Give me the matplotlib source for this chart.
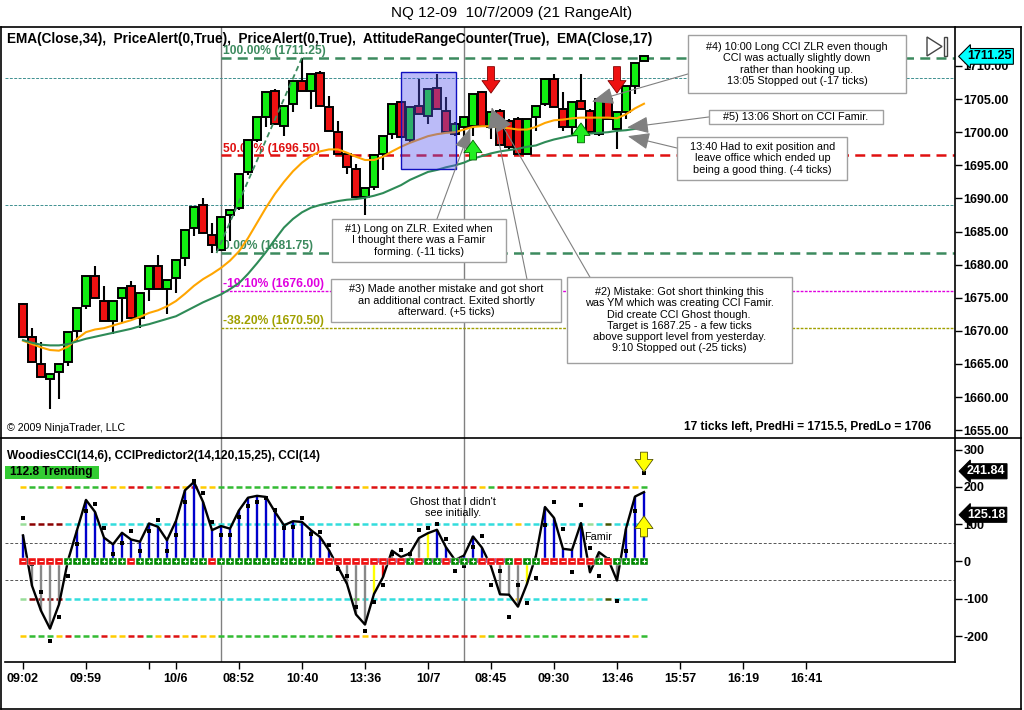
import matplotlib.pyplot as plt
import matplotlib.transforms as mtransforms
from matplotlib.patches import Rectangle, Polygon
from matplotlib.lines import Line2D

plt.rcParams['font.family'] = ['Liberation Sans', 'DejaVu Sans']

# ---- NQ 12-09, 21 tick range bars ----
opens = [1674.0, 1669.0, 1665.0, 1662.75, 1663.75, 1665.25, 1670.0, 1673.75, 1678.25, 1674.5,
         1671.5, 1675.0, 1676.75, 1672.0, 1676.25, 1679.75, 1676.25, 1678.0, 1681.0, 1685.5,
         1689.0, 1684.5, 1682.25, 1687.5, 1688.5, 1694.0, 1698.75, 1702.25, 1706.25, 1701.0,
         1704.25, 1707.75, 1706.25, 1709.0, 1703.75, 1700.0, 1696.75, 1694.5, 1690.25, 1691.75,
         1696.75, 1699.75, 1704.5, 1698.75, 1704.0, 1702.5, 1706.75, 1703.25, 1699.75, 1700.75,
         1701.0, 1706.0, 1700.75, 1703.25, 1701.75, 1702.0, 1696.75, 1702.25, 1704.25, 1708.0,
         1703.5, 1700.75, 1704.75, 1703.25, 1699.75, 1705.0, 1700.5, 1703.0, 1707.0, 1710.75]
highs = [1674.25, 1670.5, 1668.25, 1663.5, 1665.0, 1669.75, 1673.5, 1678.25, 1679.75, 1676.75,
         1674.5, 1676.5, 1677.5, 1675.75, 1679.75, 1681.5, 1677.75, 1680.75, 1685.25, 1688.75,
         1690.0, 1686.25, 1687.25, 1688.25, 1693.75, 1698.75, 1702.25, 1706.0, 1706.5, 1704.0,
         1707.75, 1711.25, 1708.75, 1709.25, 1705.5, 1701.75, 1697.0, 1695.25, 1691.5, 1696.5,
         1699.5, 1704.25, 1704.75, 1703.75, 1708.0, 1706.5, 1708.75, 1705.25, 1701.5, 1702.25,
         1705.75, 1706.25, 1703.0, 1703.5, 1702.0, 1702.25, 1702.0, 1704.0, 1708.0, 1708.75,
         1706.0, 1704.5, 1708.75, 1703.5, 1705.0, 1705.25, 1703.0, 1707.0, 1710.5, 1711.5]
lows = [1669.0, 1665.25, 1663.0, 1658.25, 1659.75, 1664.75, 1668.25, 1673.25, 1675.0, 1671.5,
        1669.5, 1671.25, 1672.0, 1670.5, 1674.5, 1676.25, 1672.5, 1675.75, 1679.75, 1684.25,
        1684.75, 1681.75, 1682.0, 1683.5, 1688.25, 1693.5, 1698.5, 1700.75, 1701.25, 1699.5,
        1703.0, 1706.25, 1703.5, 1704.0, 1700.25, 1696.75, 1693.75, 1690.25, 1687.5, 1691.25,
        1694.25, 1699.0, 1699.25, 1698.5, 1702.75, 1701.25, 1703.5, 1700.0, 1699.5, 1698.75,
        1699.5, 1701.0, 1699.0, 1698.0, 1697.25, 1696.75, 1696.75, 1700.25, 1704.0, 1703.75,
        1700.25, 1699.5, 1703.5, 1699.75, 1699.5, 1702.0, 1697.5, 1702.0, 1705.75, 1710.75]
closes = [1669.0, 1665.25, 1663.0, 1663.5, 1665.0, 1669.75, 1673.5, 1678.25, 1675.0, 1671.5,
          1674.5, 1676.5, 1672.0, 1675.75, 1679.75, 1676.25, 1677.75, 1680.75, 1685.25, 1688.75,
          1684.75, 1683.0, 1687.25, 1688.25, 1693.75, 1698.75, 1702.25, 1706.0, 1701.25, 1704.0,
          1707.75, 1706.25, 1708.75, 1704.0, 1700.25, 1696.75, 1694.75, 1690.25, 1691.5, 1696.5,
          1699.5, 1704.25, 1699.25, 1703.75, 1702.75, 1706.5, 1703.5, 1700.0, 1701.25, 1702.25,
          1705.75, 1701.0, 1703.0, 1698.0, 1697.75, 1696.75, 1702.0, 1704.0, 1708.0, 1703.75,
          1700.75, 1704.5, 1703.5, 1700.0, 1705.0, 1702.0, 1703.0, 1707.0, 1710.5, 1711.5]

ema17 = [1668.5, 1668.0, 1667.5, 1667.1, 1667.0, 1667.6, 1668.8, 1669.8, 1670.2, 1670.4,
         1670.8, 1671.2, 1671.6, 1672.1, 1672.7, 1673.1, 1673.7, 1674.5, 1675.6, 1676.8,
         1677.8, 1678.6, 1679.5, 1680.6, 1682.0, 1684.0, 1686.3, 1688.6, 1690.7, 1692.5,
         1694.1, 1695.4, 1696.4, 1697.1, 1697.4, 1697.4, 1696.9, 1696.3, 1695.8, 1695.8,
         1696.3, 1697.1, 1697.8, 1698.4, 1698.9, 1699.4, 1699.7, 1699.9, 1700.0, 1700.4,
         1700.8, 1700.9, 1700.9, 1700.7, 1700.6, 1700.4, 1700.4, 1700.8, 1701.4, 1701.8,
         1701.9, 1702.1, 1702.2, 1702.2, 1702.2, 1702.2, 1702.1, 1702.7, 1703.6, 1704.3]
ema34 = [1668.6, 1668.2, 1667.9, 1667.8, 1667.8, 1668.0, 1668.4, 1668.8, 1669.1, 1669.4,
         1669.7, 1670.0, 1670.3, 1670.7, 1671.0, 1671.4, 1671.8, 1672.2, 1672.9, 1673.6,
         1674.3, 1674.9, 1675.5, 1676.3, 1677.2, 1678.6, 1680.2, 1681.9, 1683.8, 1685.6,
         1686.9, 1687.9, 1688.6, 1689.0, 1689.3, 1689.6, 1689.8, 1689.9, 1690.1, 1690.4,
         1690.8, 1691.4, 1692.0, 1692.8, 1693.4, 1694.0, 1694.3, 1694.7, 1695.0, 1695.4,
         1696.0, 1696.4, 1696.8, 1697.1, 1697.3, 1697.5, 1697.8, 1698.0, 1698.5, 1698.9,
         1699.2, 1699.5, 1699.6, 1699.8, 1699.9, 1700.0, 1700.2, 1700.3, 1700.5, 1700.8]

fib_pct = ['100.00%', '50.00%', '0.00%', '-19.10%', '-38.20%']
fib_price = [1711.25, 1696.50, 1681.75, 1676.00, 1670.50]
fib_anchor_bars = [21.5, 31]          # swing low -> swing high
prior_levels = [1708.25, 1689.0]      # thin reference lines
session_breaks = [22, 49]

sell_bars, sell_tip = [52, 66], [1705.9, 1705.9]
buy_bars, buy_tip = [50, 62], [1698.8, 1701.4]

# ---- Woodies CCI panel ----
cci14 = [70, -65, -132, -180, -115, 3, 84, 165, 133, 64,
         46, 77, 59, 53, 102, 93, 57, 109, 191, 213,
         160, 84, 95, 88, 137, 171, 176, 173, 133, 97,
         108, 106, 84, 66, 30, -15, -60, -142, -169, -87,
         -42, 29, 12, 22, 63, 76, 85, 38, 4, 16,
         67, 37, -13, -88, -89, -121, -60, 16, 146, 117,
         34, 31, 103, -29, 25, 7, -51, 88, 174, 186]
turbo = [116, -8, -82, -213, -149, -40, 47, 135, 154, 89,
         19, 49, 81, 28, 81, 112, 28, 72, 159, 217,
         183, 105, 72, 70, 119, 150, 159, 171, 137, 90,
         92, 116, 74, 79, 43, -20, -40, -122, -187, -109,
         -62, 20, 31, 20, 85, 90, 100, 61, -26, -13,
         40, 67, -62, -26, -149, -62, -112, -44, 98, 159,
         86, -29, 152, 37, -38, 7, -106, 29, 134, 237]
# trend state of histogram bars: u = trending, n = neutral, w = warning bar, d = down
hist_state = list('unnnnu' + 'u' * 29 + 'nnnnwd' + 'nnnnw' + 'uuuuuu' + 'nnnnwn' + 'uuuuu' + 'nnnn' + 'uuu')
# zero line (LSMA) sign
zero_sign = list('-----' + '+++++++' + '-' + '++++++++' + '-' + '+' * 11 + '-' * 10 + '+-++-+++---+-++' + '------+-++++')
band200_top = list('yGGGyrGGGryyrrGyrryryy' + 'G' * 13 + 'rrry' + 'r' * 12 + 'yG' + 'r' * 15 + 'yG')
band200_bot = band200_top[:56] + list('GGGG') + band200_top[60:]
band100 = list('lkkkk' + 'c' * 32 + 'g' + 'c' * 17 + 'y' + 'c' * 7 + 'l' + 'c' + 'o' + 'cccc')
ghost_span = [39.1, 54.1]
alert_bar = 69
alert_down, alert_up = [293, 240], [66, 122]
cci_tags = [241.84, 125.18]

tick_pos = [0, 7, 14, 17, 24, 31, 38, 45, 52, 59, 66, 73, 80, 87]
tick_lab = ['09:02', '09:59', '', '10/6', '08:52', '10:40', '13:36', '10/7', '08:45',
            '09:30', '13:46', '15:57', '16:19', '16:41']

notes = [
    ("#4) 10:00 Long CCI ZLR even though\nCCI was actually slightly down\nrather than hooking up.\n13:05 Stopped out (-17 ticks)",
     (73.9, 1705.9, 24.2, 8.8), (73.9, 1708.8), (63.2, 1704.6)),
    ("#5) 13:06 Short on CCI Famir.", (76.2, 1701.25, 19.4, 2.1), (76.2, 1702.3), (67.1, 1700.7)),
    ("13:40 Had to exit position and\nleave office which ended up\nbeing a good thing. (-4 ticks)",
     (72.7, 1692.8, 18.9, 6.5), (72.7, 1697.6), (67.2, 1699.4)),
    ("#1) Long on ZLR. Exited when\nI thought there was a Famir\nforming. (-11 ticks)",
     (34.3, 1680.4, 19.4, 6.5), (46.0, 1686.9), (49.7, 1700.6)),
    ("#3) Made another mistake and got short\nan additional contract. Exited shortly\nafterward. (+5 ticks)",
     (34.2, 1671.3, 25.6, 6.5), (56.0, 1677.8), (52.1, 1703.8)),
    ("#2) Mistake: Got short thinking this\nwas YM which was creating CCI Famir.\nDid create CCI Ghost though.\n"
     "Target is 1687.25 - a few ticks\nabove support level from yesterday.\n9:10 Stopped out (-25 ticks)",
     (60.4, 1665.1, 25.0, 13.0), (63.0, 1678.1), (52.3, 1703.3)),
]

W, H = 1024, 710
fig = plt.figure(figsize=(W / 100, H / 100), dpi=100)


def fx(px):
    return px / W


def fy(py):
    return 1 - py / H


ax = fig.add_axes([fx(5), fy(438), fx(950), 411 / H])
ax2 = fig.add_axes([fx(5), fy(662), fx(950), 224 / H])
XMIN, XMAX = -2.0, 103.56
for a in (ax, ax2):
    a.set_xlim(XMIN, XMAX)
    for s in ('left', 'top', 'bottom'):
        a.spines[s].set_visible(False)
    a.spines['right'].set_linewidth(1.2)
    a.yaxis.tick_right()
    a.tick_params(axis='y', length=5, width=1, pad=1)
ax2.spines['bottom'].set_visible(True)
ax2.spines['bottom'].set_linewidth(1.2)

ax.set_ylim(1653.81, 1715.89)
ax.set_yticks(range(1655, 1711, 5))
ax.set_yticklabels([f'{v:.2f}' for v in range(1655, 1711, 5)], fontweight='bold', fontsize=9)
ax.set_xticks([])

# ---- price panel ----
xs = list(range(len(closes)))
for b in session_breaks:
    ax.axvline(b, color='#808080', lw=1, zorder=1)
    ax2.axvline(b, color='#808080', lw=1, zorder=1)
for lv in prior_levels:
    ax.axhline(lv, color='#3F9090', lw=0.7, ls=(0, (3, 1.5)), zorder=1)

fib_col = ['#3C8A5E', '#E01010', '#3C8A5E', '#E000E0', '#A0A000']
fib_ls = [(0, (4, 2.5)), (0, (4, 2.5)), (0, (4, 2.5)), (0, (2, 1)), (0, (2, 1))]
fib_lw = [1.8, 1.8, 1.8, 1.0, 1.0]
for p, v, c, ls, lw in zip(fib_pct, fib_price, fib_col, fib_ls, fib_lw):
    ax.hlines(v, session_breaks[0], XMAX, colors=c, linestyles=ls, lw=lw, zorder=2)
    ax.text(session_breaks[0] + 0.2, v + 0.12, f'{p} ({v:.2f})', color=c, fontsize=8.7,
            fontweight='bold', va='bottom', ha='left', zorder=2)
ax.plot(fib_anchor_bars, [fib_price[2], fib_price[0]], color='#3C8A5E', lw=1.3,
        ls=(0, (3, 2)), zorder=6)

ax.vlines(xs, lows, highs, color='black', lw=1.5, zorder=3)
body_col = ['#11EE11' if c >= o else '#EE1111' for o, c in zip(opens, closes)]
ax.bar(xs, [c - o for o, c in zip(opens, closes)], bottom=opens, width=0.8,
       color=body_col, edgecolor='black', linewidth=1.4, zorder=4)
ax.plot(xs, ema17, color='#FFA500', lw=1.5, zorder=5)
ax.plot(xs, ema34, color='#2E8B57', lw=1.5, zorder=5)

ax.add_patch(Rectangle((42.0, 1694.45), 6.08, 14.6, fc='#5555EE', alpha=0.4, ec='none', zorder=5))
ax.add_patch(Rectangle((42.0, 1694.45), 6.08, 14.6, fc='none', ec='#1010C0', lw=1, zorder=5))

sig_style = 'simple,head_length=0.45,head_width=0.65,tail_width=0.25'
for b, t in zip(sell_bars, sell_tip):
    ax.annotate('', xy=(b, t), xytext=(b, t + 4.0),
                arrowprops=dict(arrowstyle=sig_style, fc='#EE1111', ec='#800000', lw=0.6,
                                shrinkA=0, shrinkB=0, mutation_scale=20), zorder=8)
for b, t in zip(buy_bars, buy_tip):
    ax.annotate('', xy=(b, t), xytext=(b, t - 3.0),
                arrowprops=dict(arrowstyle=sig_style, fc='#22EE22', ec='#006000', lw=0.6,
                                shrinkA=0, shrinkB=0, mutation_scale=20), zorder=8)

for txt, (bx, by, bw, bh), tail, tip in notes:
    ax.annotate('', xy=tip, xytext=tail,
                arrowprops=dict(arrowstyle='-|>,head_length=0.9,head_width=0.35', color='#808080',
                                lw=0.8, shrinkA=0, shrinkB=0, mutation_scale=15), zorder=7)
    ax.add_patch(Rectangle((bx, by), bw, bh, fc='white', ec='#A0A0A0', lw=1, zorder=8))
    ax.text(bx + bw / 2, by + bh / 2, txt, ha='center', va='center', fontsize=7.8,
            linespacing=1.15, zorder=9)

tr = mtransforms.blended_transform_factory(ax.transAxes, ax.transData)
ax.text(1.0 + 12 / 950, fib_price[0] + 0.2, f'{fib_price[0]:.2f}', transform=tr, ha='left',
        va='center', fontsize=9, fontweight='bold', zorder=10, clip_on=False,
        bbox=dict(boxstyle='larrow,pad=0.15', fc='#00FFFF', ec='black', lw=0.8))

# ---- CCI panel ----
ax2.set_ylim(-269.4, 331)
ax2.set_yticks([300, 200, 100, 0, -100, -200])
ax2.set_yticklabels(['300', '200', '100', '0', '-100', '-200'], fontweight='bold', fontsize=9)
ax2.set_xticks(tick_pos)
ax2.set_xticklabels(tick_lab, fontweight='bold', fontsize=9)
ax2.tick_params(axis='x', length=5, width=1, pad=3)

for lv in (50, -50):
    ax2.axhline(lv, color='#555555', lw=0.7, ls=(0, (3, 2)), zorder=1)
band_cols = {'y': '#FFCC00', 'G': '#33BB33', 'r': '#DD1111', 'c': '#33DDDD', 'l': '#99DD99',
             'k': '#8B0000', 'g': '#44CC44', 'o': '#445500'}
x0 = [x - 0.33 for x in xs]
x1 = [x + 0.33 for x in xs]
ax2.hlines([200] * len(xs), x0, x1, colors=[band_cols[c] for c in band200_top], lw=1.8, zorder=2)
ax2.hlines([-200] * len(xs), x0, x1, colors=[band_cols[c] for c in band200_bot], lw=1.8, zorder=2)
ax2.hlines([100] * len(xs), x0, x1, colors=[band_cols[c] for c in band100], lw=1.8, zorder=2)
ax2.hlines([-100] * len(xs), x0, x1, colors=[band_cols[c] for c in band100], lw=1.8, zorder=2)

state_col = {'u': '#0000CC', 'n': '#888888', 'w': '#FFFF00', 'd': '#EE0000'}
ax2.vlines(xs, 0, cci14, colors=[state_col[s] for s in hist_state], lw=1.7, zorder=3)
ax2.hlines(5, ghost_span[0], ghost_span[1], color='#800080', lw=3.5, zorder=4)
ax2.plot(xs, cci14, color='black', lw=1.7, zorder=5)
ax2.scatter(xs, turbo, marker='s', s=10, color='black', zorder=6, linewidths=0)

zc = ['#008800' if s == '+' else '#EE1111' for s in zero_sign]
ax2.scatter(xs, [0] * len(xs), marker='s', s=32, color=zc, edgecolors='white', linewidths=0.3, zorder=6)
plus_x = [x for x, s in zip(xs, zero_sign) if s == '+']
minus_x = [x for x, s in zip(xs, zero_sign) if s == '-']
ax2.scatter(plus_x, [0] * len(plus_x), marker='+', s=10, color='white', linewidths=0.8, zorder=7)
ax2.scatter(minus_x, [0] * len(minus_x), marker='_', s=10, color='white', linewidths=0.8, zorder=7)

for a0, a1 in (alert_down, alert_up):
    ax2.annotate('', xy=(alert_bar, a1), xytext=(alert_bar, a0),
                 arrowprops=dict(arrowstyle=sig_style, fc='#FFFF00', ec='#555500', lw=0.6,
                                 shrinkA=0, shrinkB=0, mutation_scale=20), zorder=8)

ax2.text(47.8, 145, "Ghost that I didn't\nsee initially.", ha='center', va='center', fontsize=7.8,
         linespacing=1.15, zorder=8)
ax2.text(63.9, 66, 'Famir', ha='center', va='center', fontsize=7.8, zorder=8)

tr2 = mtransforms.blended_transform_factory(ax2.transAxes, ax2.transData)
for v in cci_tags:
    ax2.text(1.0 + 12 / 950, v, f'{v:.2f}', transform=tr2, ha='left', va='center', color='white',
             fontsize=9, fontweight='bold', zorder=10, clip_on=False,
             bbox=dict(boxstyle='larrow,pad=0.12', fc='black', ec='black', lw=0.8))

# ---- frame and header texts ----
fig.add_artist(Line2D([fx(1), fx(1)], [fy(27), fy(709)], color='black', lw=1.2))
fig.add_artist(Line2D([fx(1), fx(1021)], [fy(709), fy(709)], color='black', lw=1.2))
fig.add_artist(Line2D([fx(1021), fx(1021)], [fy(27), fy(709)], color='black', lw=1.2))
fig.add_artist(Line2D([fx(1), fx(1021)], [fy(27), fy(27)], color='black', lw=1.2))
fig.add_artist(Line2D([fx(1), fx(1021)], [fy(438), fy(438)], color='black', lw=1.2))

fig.text(0.5, fy(13), 'NQ 12-09  10/7/2009 (21 RangeAlt)', ha='center', va='center', fontsize=11)
fig.text(fx(7), fy(38.5), 'EMA(Close,34),  PriceAlert(0,True),  PriceAlert(0,True),  '
         'AttitudeRangeCounter(True),  EMA(Close,17)', ha='left', va='center', fontsize=9.8,
         fontweight='bold')
fig.text(fx(7), fy(428), '\u00a9 2009 NinjaTrader, LLC', ha='left', va='center', fontsize=7.7)
fig.text(fx(931), fy(427), '17 ticks left, PredHi = 1715.5, PredLo = 1706', ha='right',
         va='center', fontsize=8.6, fontweight='bold')
fig.text(fx(7), fy(456), 'WoodiesCCI(14,6), CCIPredictor2(14,120,15,25), CCI(14)', ha='left',
         va='center', fontsize=8.6, fontweight='bold')
fig.add_artist(Rectangle((fx(5), fy(479)), fx(94), 13 / H, transform=fig.transFigure,
                         fc='#33CC33', ec='none'))
fig.text(fx(10), fy(472.5), '112.8 Trending', ha='left', va='center', fontsize=8.6,
         fontweight='bold')
fig.add_artist(Polygon([(fx(927), fy(37)), (fx(927), fy(56)), (fx(942), fy(46.5))], closed=True,
                       transform=fig.transFigure, fc='white', ec='#444444', lw=1))
fig.add_artist(Rectangle((fx(944), fy(56)), fx(3), 19 / H, transform=fig.transFigure,
                         fc='white', ec='#444444', lw=1))

fig.savefig('out.png', dpi=100)
